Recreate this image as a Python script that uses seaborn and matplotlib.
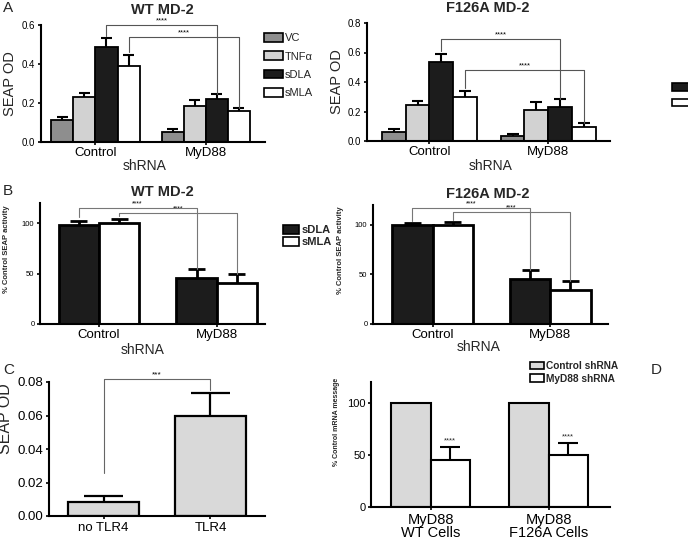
import numpy as np
import pandas as pd
import matplotlib
matplotlib.use("Agg")
import matplotlib.pyplot as plt
import seaborn as sns
from matplotlib.patches import Patch, Rectangle

# ---------------- data ----------------
shrna = ["Control", "MyD88"]
treatments = ["VC", "TNFα", "sDLA", "sMLA"]

# Panel A (SEAP OD), WT MD-2
wt_od_control = [0.111, 0.230, 0.489, 0.390]
wt_od_myd88 = [0.053, 0.186, 0.222, 0.158]
wt_od_control_sem = [0.017, 0.019, 0.043, 0.057]
wt_od_myd88_sem = [0.013, 0.030, 0.023, 0.016]

# Panel A (SEAP OD), F126A MD-2
f126_od_control = [0.063, 0.245, 0.535, 0.295]
f126_od_myd88 = [0.034, 0.211, 0.233, 0.097]
f126_od_control_sem = [0.016, 0.029, 0.054, 0.047]
f126_od_myd88_sem = [0.014, 0.056, 0.050, 0.028]

# Panel B (% control SEAP activity)
lipids = ["sDLA", "sMLA"]
wt_pct_control = [98.3, 100.0]
wt_pct_myd88 = [46.0, 41.0]
wt_pct_control_sem = [4.3, 4.3]
wt_pct_myd88_sem = [8.3, 8.7]
f126_pct_control = [100.0, 100.0]
f126_pct_myd88 = [45.0, 34.3]
f126_pct_control_sem = [1.5, 3.0]
f126_pct_myd88_sem = [9.5, 9.5]

# Panel C
tlr_labels = ["no TLR4", "TLR4"]
tlr_od = [0.0085, 0.0596]
tlr_od_sem = [0.0034, 0.0140]

# Panel D
cell_labels = ["MyD88\nWT Cells", "MyD88\nF126A Cells"]
shrna_groups = ["Control shRNA", "MyD88 shRNA"]
mrna_control = [100.0, 100.0]
mrna_myd88 = [44.9, 50.3]
mrna_control_sem = [0.0, 0.0]
mrna_myd88_sem = [12.8, 11.6]

# ---------------- style ----------------
sns.set_style("ticks")
plt.rcParams["font.family"] = ["Liberation Sans", "DejaVu Sans"]
plt.rcParams["axes.linewidth"] = 1.5

W, H = 688, 543
fig = plt.figure(figsize=(W / 100, H / 100), dpi=100)


def add_ax(x0, x1, ytop, ybot):
    return fig.add_axes([x0 / W, 1 - ybot / H, (x1 - x0) / W, (ybot - ytop) / H])


def style_ax(ax, ylim, yticks, xlim, ytick_fs, xtick_fs, yfmt=None):
    ax.set_ylim(*ylim)
    ax.set_xlim(*xlim)
    ax.set_yticks(yticks)
    if yfmt:
        ax.set_yticklabels([yfmt.format(v) for v in yticks])
    for s in ["top", "right"]:
        ax.spines[s].set_visible(False)
    for s in ["left", "bottom"]:
        ax.spines[s].set_linewidth(1.5)
        ax.spines[s].set_color("black")
    ax.tick_params(axis="y", labelsize=ytick_fs, length=2.5, width=1.2, pad=1.5, colors="black")
    ax.tick_params(axis="x", labelsize=xtick_fs, length=2.5, width=1.2, pad=1, colors="black")
    ax.set_xlabel("")
    ax.set_ylabel("")


def set_ylabel_center(ax, text, x_px_offset, ax_w_px, yfrac=0.5, **kw):
    ax.set_ylabel(text, **kw)
    ax.yaxis.label.set_va("center")
    ax.yaxis.set_label_coords(x_px_offset / ax_w_px, yfrac)


def add_err(ax, container, sems, lw=1.5, capfrac=0.5):
    for p, s in zip(container, sems):
        if s <= 0:
            continue
        x = p.get_x() + p.get_width() / 2
        h = p.get_height()
        w = p.get_width()
        ax.vlines(x, h, h + s, color="black", lw=lw, zorder=3)
        ax.hlines(h + s, x - w * capfrac / 2, x + w * capfrac / 2, color="black", lw=lw, zorder=3)


def center(p):
    return p.get_x() + p.get_width() / 2


def bracket(ax, p1, p2, y_start, y_top, y_end, text, color="#555555", fs=5.5):
    x1, x2 = center(p1), center(p2)
    ax.plot([x1, x1, x2, x2], [y_start, y_top, y_top, y_end], color=color, lw=0.8,
            clip_on=False, zorder=4)
    xm = (x1 + x2) / 2
    ax.annotate(text, (xm, y_top), xytext=(0, 0.5), textcoords="offset points",
                ha="center", va="bottom", fontsize=fs, color="black", annotation_clip=False)


def grouped_df(cats, hues, vals_by_cat, cat_name, hue_name, val_name):
    rows = []
    for c, vals in zip(cats, vals_by_cat):
        for hname, v in zip(hues, vals):
            rows.append({cat_name: c, hue_name: hname, val_name: v})
    return pd.DataFrame(rows)


# ---------------- Panel A ----------------
pal_A = {"VC": "#8e8e8e", "TNFα": "#d2d2d2", "sDLA": "#1c1c1c", "sMLA": "#ffffff"}

panelA = [
    (wt_od_control, wt_od_myd88, wt_od_control_sem, wt_od_myd88_sem, "WT MD-2",
     (41, 265, 25, 142), (0, 0.6), [0, 0.2, 0.4, 0.6], (-0.495, 1.54)),
    (f126_od_control, f126_od_myd88, f126_od_control_sem, f126_od_myd88_sem, "F126A MD-2",
     (367, 610, 23, 141), (0, 0.8), [0, 0.2, 0.4, 0.6, 0.8], (-0.525, 1.52)),
]
axesA = []
for ctl, myd, ctl_s, myd_s, title, box, ylim, yt, xlim in panelA:
    ax = add_ax(*box)
    df = grouped_df(shrna, treatments, [ctl, myd], "shRNA", "treatment", "od")
    sns.barplot(data=df, x="shRNA", y="od", hue="treatment", order=shrna,
                hue_order=treatments, palette=pal_A, edgecolor="black", linewidth=1.3,
                errorbar=None, width=0.8, gap=0, legend=False, ax=ax)
    for i in range(len(treatments)):
        add_err(ax, ax.containers[i], [ctl_s[i], myd_s[i]], lw=1.5)
    style_ax(ax, ylim, yt, xlim, 7, 9.5, "{:.1f}")
    ax.set_title(title, fontsize=10.5, fontweight="bold", pad=8)
    ax.set_xlabel("shRNA", fontsize=10)
    axesA.append(ax)

axA1, axA2 = axesA
set_ylabel_center(axA1, "SEAP OD", -31, 224, fontsize=10.5)
axA1.xaxis.set_label_coords((145 - 41) / 224, -(159 - 142) / 117)
axA1.title.set_position(((162 - 41) / 224, 1.0))
set_ylabel_center(axA2, "SEAP OD", -30, 243, fontsize=10.5)
axA2.xaxis.set_label_coords((491 - 367) / 243, -(159 - 141) / 118)
axA2.title.set_position(((488 - 367) / 243, 1.0))

c = axA1.containers
bracket(axA1, c[2][0], c[2][1], 0.545, 0.60, 0.245, "****")
bracket(axA1, c[3][0], c[3][1], 0.46, 0.54, 0.174, "****")
c = axA2.containers
bracket(axA2, c[2][0], c[2][1], 0.607, 0.69, 0.283, "****")
bracket(axA2, c[3][0], c[3][1], 0.36, 0.478, 0.125, "****")

axA1.legend(handles=[Patch(facecolor=pal_A[t], edgecolor="black", linewidth=1.2, label=t)
                     for t in treatments],
            loc="upper left", bbox_to_anchor=(264 / W, 1 - 33 / H),
            bbox_transform=fig.transFigure, frameon=False, fontsize=8,
            handlelength=1.75, handleheight=0.8, handletextpad=0.15,
            labelspacing=0.75, borderpad=0, borderaxespad=0)

# cut-off legend swatches at right edge
fig.patches.append(Rectangle((672 / W, 1 - 91 / H), 20 / W, 8 / H, facecolor="#1c1c1c",
                             edgecolor="black", lw=1.2, transform=fig.transFigure))
fig.patches.append(Rectangle((672 / W, 1 - 106 / H), 20 / W, 7 / H, facecolor="white",
                             edgecolor="black", lw=1.2, transform=fig.transFigure))

# ---------------- Panel B ----------------
pal_B = {"sDLA": "#1c1c1c", "sMLA": "#ffffff"}
panelB = [
    (wt_pct_control, wt_pct_myd88, wt_pct_control_sem, wt_pct_myd88_sem, "WT MD-2",
     (40, 265, 203, 324), (-0.5, 1.41)),
    (f126_pct_control, f126_pct_myd88, f126_pct_control_sem, f126_pct_myd88_sem, "F126A MD-2",
     (373, 608, 205, 324), (-0.506, 1.49)),
]
axesB = []
for ctl, myd, ctl_s, myd_s, title, box, xlim in panelB:
    ax = add_ax(*box)
    df = grouped_df(shrna, lipids, [ctl, myd], "shRNA", "lipid", "pct")
    sns.barplot(data=df, x="shRNA", y="pct", hue="lipid", order=shrna, hue_order=lipids,
                palette=pal_B, edgecolor="black", linewidth=2.0, errorbar=None,
                width=0.685, gap=0, legend=False, ax=ax)
    for i in range(len(lipids)):
        add_err(ax, ax.containers[i], [ctl_s[i], myd_s[i]], lw=2.0, capfrac=0.42)
    style_ax(ax, (0, 120), [0, 50, 100], xlim, 5.5, 9.5)
    ax.set_title(title, fontsize=10.5, fontweight="bold", pad=5)
    ax.set_xlabel("shRNA", fontsize=10)
    axesB.append(ax)

axB1, axB2 = axesB
set_ylabel_center(axB1, "% Control SEAP activity", -33, 225, yfrac=0.62,
                  fontsize=5.5, fontweight="bold")
axB1.xaxis.set_label_coords((143 - 40) / 225, -(343 - 324) / 121)
axB1.title.set_position(((162 - 40) / 225, 1.0))
set_ylabel_center(axB2, "% Control SEAP activity", -33, 235, yfrac=0.62,
                  fontsize=5.5, fontweight="bold")
axB2.xaxis.set_label_coords((479 - 373) / 235, -(340 - 324) / 119)
axB2.title.set_position(((488 - 373) / 235, 1.0))

c = axB1.containers
bracket(axB1, c[0][0], c[0][1], 106, 115, 54.3, "****", color="#777777", fs=5)
bracket(axB1, c[1][0], c[1][1], 107, 110, 49.7, "****", color="#777777", fs=5)
c = axB2.containers
bracket(axB2, c[0][0], c[0][1], 104, 117, 54.5, "****", color="#777777", fs=5)
bracket(axB2, c[1][0], c[1][1], 105, 113, 43.8, "****", color="#777777", fs=5)

axB1.legend(handles=[Patch(facecolor=pal_B[t], edgecolor="black", linewidth=1.2, label=t)
                     for t in lipids],
            loc="upper left", bbox_to_anchor=(283 / W, 1 - 225 / H),
            bbox_transform=fig.transFigure, frameon=False,
            prop={"size": 8, "weight": "bold"},
            handlelength=1.45, handleheight=0.8, handletextpad=0.2,
            labelspacing=0.2, borderpad=0, borderaxespad=0)

# ---------------- Panel C ----------------
axC = add_ax(49, 265, 382, 516)
sns.barplot(x=tlr_labels, y=tlr_od, order=tlr_labels, color="#d9d9d9", edgecolor="black",
            linewidth=1.6, errorbar=None, width=0.66, ax=axC)
add_err(axC, axC.containers[0], tlr_od_sem, lw=1.6, capfrac=0.54)
style_ax(axC, (0, 0.08), [0, 0.02, 0.04, 0.06, 0.08], (-0.51, 1.51), 9.5, 9.5, "{:.2f}")
axC.tick_params(axis="x", pad=2)
set_ylabel_center(axC, "SEAP OD", -43, 216, yfrac=0.73, fontsize=11.5)
c = axC.containers[0]
bracket(axC, c[0], c[1], 0.0254, 0.0816, 0.0754, "***", color="#666666", fs=6)

# ---------------- Panel D ----------------
axD = add_ax(371, 610, 382, 507)
pal_D = {"Control shRNA": "#d9d9d9", "MyD88 shRNA": "#ffffff"}
dfD = grouped_df(cell_labels, shrna_groups,
                 [[mrna_control[0], mrna_myd88[0]], [mrna_control[1], mrna_myd88[1]]],
                 "cells", "shrna", "pct")
sns.barplot(data=dfD, x="cells", y="pct", hue="shrna", order=cell_labels,
            hue_order=shrna_groups, palette=pal_D, edgecolor="black", linewidth=1.5,
            errorbar=None, width=0.67, gap=0, legend=False, ax=axD)
add_err(axD, axD.containers[0], mrna_control_sem, lw=1.5)
add_err(axD, axD.containers[1], mrna_myd88_sem, lw=1.5)
style_ax(axD, (0, 120), [0, 50, 100], (-0.504, 1.52), 8, 10.5)
axD.tick_params(axis="x", pad=1.5)
for lab in axD.get_xticklabels():
    lab.set_linespacing(0.95)
set_ylabel_center(axD, "% Control mRNA message", -34, 239, yfrac=0.68,
                  fontsize=5, fontweight="bold")
for p, s in zip(axD.containers[1], mrna_myd88_sem):
    axD.annotate("****", (center(p), p.get_height() + s), xytext=(0, 1.5),
                 textcoords="offset points", ha="center", va="bottom", fontsize=5.5)
axD.legend(handles=[Patch(facecolor=pal_D[t], edgecolor="black", linewidth=1.2, label=t)
                    for t in shrna_groups],
           loc="upper left", bbox_to_anchor=(530 / W, 1 - 361 / H),
           bbox_transform=fig.transFigure, frameon=False,
           prop={"size": 7.3, "weight": "bold"},
           handlelength=1.4, handleheight=0.75, handletextpad=0.2,
           labelspacing=0.25, borderpad=0, borderaxespad=0)

# ---------------- panel letters ----------------
for letter, (x, y) in {"A": (3, 1), "B": (3, 184), "C": (3, 363), "D": (651, 363)}.items():
    fig.text(x / W, 1 - y / H, letter, fontsize=11, va="top", ha="left")

fig.savefig("out.png", dpi=100)
